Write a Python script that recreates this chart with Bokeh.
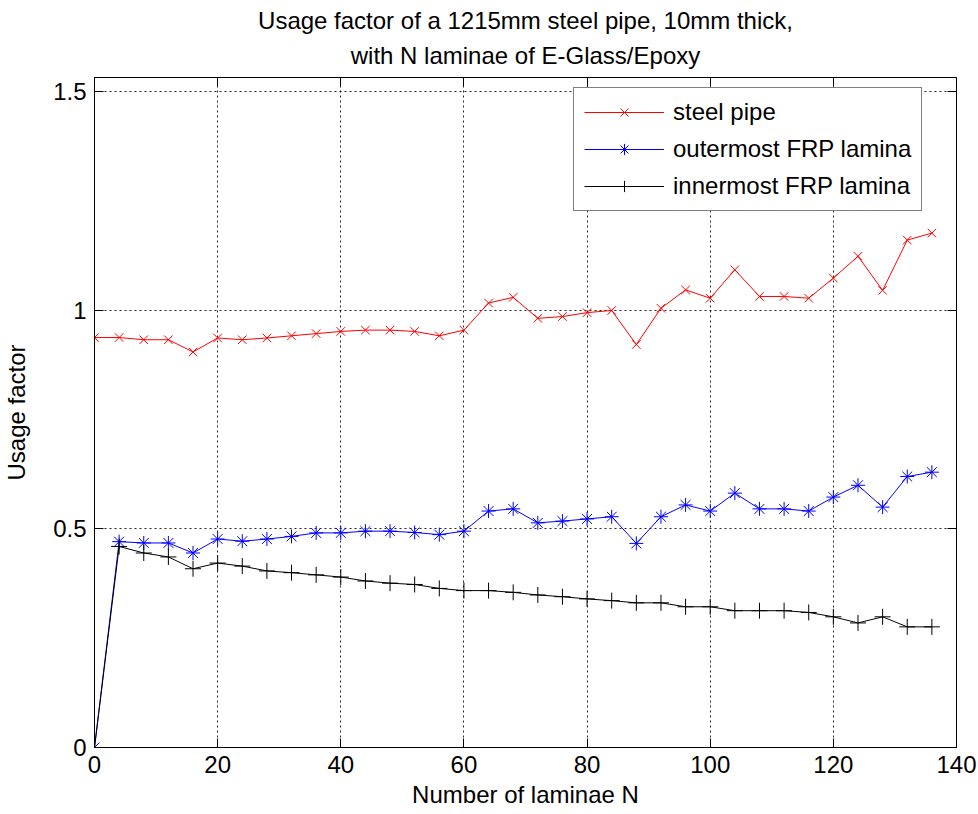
from bokeh.plotting import figure
from bokeh.models import (LinearAxis, FixedTicker, Legend, LegendItem, Range1d, Title,
                          CustomJSTickFormatter)
from bokeh.embed import file_html
from bokeh.resources import INLINE

# ---- data -------------------------------------------------------------
laminae_n = list(range(0, 137, 4))

steel_pipe = [0.938, 0.938, 0.933, 0.933, 0.905, 0.937, 0.933, 0.937, 0.942,
              0.947, 0.952, 0.955, 0.955, 0.952, 0.942, 0.955, 1.017, 1.030,
              0.982, 0.986, 0.995, 1.000, 0.922, 1.005, 1.047, 1.028, 1.093,
              1.032, 1.032, 1.028, 1.074, 1.124, 1.046, 1.161, 1.177]

outermost_frp = [0.000, 0.471, 0.468, 0.468, 0.445, 0.477, 0.472, 0.477, 0.483,
                 0.491, 0.491, 0.495, 0.495, 0.492, 0.487, 0.495, 0.541, 0.546,
                 0.514, 0.518, 0.523, 0.528, 0.467, 0.528, 0.555, 0.541, 0.582,
                 0.546, 0.546, 0.541, 0.573, 0.600, 0.550, 0.620, 0.630]

innermost_frp = [0.000, 0.460, 0.445, 0.436, 0.409, 0.422, 0.415, 0.404, 0.400,
                 0.395, 0.390, 0.381, 0.376, 0.373, 0.364, 0.359, 0.359, 0.355,
                 0.349, 0.345, 0.340, 0.336, 0.331, 0.331, 0.322, 0.322, 0.313,
                 0.313, 0.313, 0.309, 0.299, 0.285, 0.299, 0.276, 0.276]

x_ticks = [0, 20, 40, 60, 80, 100, 120, 140]
y_ticks = [0, 0.5, 1, 1.5]
y_tick_labels = ["0", "0.5", "1", "1.5"]

series_names = ["steel pipe", "outermost FRP lamina", "innermost FRP lamina"]
title_line1 = "Usage factor of a 1215mm steel pipe, 10mm thick,"
title_line2 = "with N laminae of E-Glass/Epoxy"
x_label = "Number of laminae N"
y_label = "Usage factor"

# ---- figure -----------------------------------------------------------
FONT = "Liberation Sans"
FS = "24px"

p = figure(width=978, height=814, output_backend="svg", toolbar_location=None,
           x_range=Range1d(0, 140), y_range=Range1d(0, 1.533),
           min_border_left=89, min_border_right=22, min_border_top=77,
           min_border_bottom=67)
p.title = None

p.background_fill_color = "white"
p.border_fill_color = "white"
p.outline_line_color = "black"
p.outline_line_width = 1

for ax in (p.xaxis[0], p.yaxis[0]):
    ax.major_label_text_font = FONT
    ax.major_label_text_font_size = FS
    ax.major_label_text_color = "black"
    ax.axis_label_text_font = FONT
    ax.axis_label_text_font_size = FS
    ax.axis_label_text_font_style = "normal"
    ax.axis_label_text_color = "black"
    ax.major_tick_in = 9
    ax.major_tick_out = 0
    ax.major_tick_line_color = "black"
    ax.minor_tick_line_color = None
    ax.axis_line_color = "black"

p.xaxis[0].ticker = FixedTicker(ticks=x_ticks)
p.yaxis[0].ticker = FixedTicker(ticks=y_ticks)
p.yaxis[0].major_label_overrides = dict(zip(y_ticks, y_tick_labels))
p.xaxis[0].axis_label = x_label
p.yaxis[0].axis_label = y_label
p.xaxis[0].major_label_standoff = 8
p.xaxis[0].axis_label_standoff = 5
p.yaxis[0].major_label_standoff = 8
p.yaxis[0].axis_label_standoff = 20

blank = CustomJSTickFormatter(code="return ''")
top_axis = LinearAxis(ticker=FixedTicker(ticks=x_ticks), formatter=blank,
                      major_label_text_font_size="1px",
                      major_tick_in=9, major_tick_out=0, minor_tick_line_color=None,
                      axis_line_color=None, major_label_standoff=0,
                      major_tick_line_color="black")
right_axis = LinearAxis(ticker=FixedTicker(ticks=y_ticks), formatter=blank,
                        major_label_text_font_size="1px",
                        major_tick_in=9, major_tick_out=0, minor_tick_line_color=None,
                        axis_line_color=None, major_label_standoff=0,
                        major_tick_line_color="black")
p.add_layout(top_axis, "above")
p.add_layout(right_axis, "right")

p.add_layout(Title(text=title_line2, align="center", text_font=FONT, text_font_size=FS,
                   text_font_style="normal", text_color="black", standoff=17), "above")
p.add_layout(Title(text=title_line1, align="center", text_font=FONT, text_font_size=FS,
                   text_font_style="normal", text_color="black", standoff=-5), "above")

for g in (p.xgrid[0], p.ygrid[0]):
    g.grid_line_color = "black"
    g.grid_line_dash = "2 3"
    g.grid_line_width = 1
    g.grid_line_alpha = 0.85
p.xgrid[0].ticker = FixedTicker(ticks=x_ticks)
p.ygrid[0].ticker = FixedTicker(ticks=y_ticks)

# ---- series -----------------------------------------------------------
r1l = p.line(laminae_n, steel_pipe, line_color="#ff0000", line_width=1)
r1m = p.scatter(laminae_n, steel_pipe, marker="x", size=12, line_color="#ff0000",
                fill_color=None, line_width=1)
r2l = p.line(laminae_n, outermost_frp, line_color="#0000ff", line_width=1)
r2m = p.scatter(laminae_n, outermost_frp, marker="asterisk", size=14, line_color="#0000ff",
                line_width=1)
r3l = p.line(laminae_n, innermost_frp, line_color="black", line_width=1)
r3m = p.scatter(laminae_n, innermost_frp, marker="cross", size=16, line_color="black",
                line_width=1)

legend = Legend(items=[
    LegendItem(label=series_names[0], renderers=[r1l, r1m]),
    LegendItem(label=series_names[1], renderers=[r2l, r2m]),
    LegendItem(label=series_names[2], renderers=[r3l, r3m]),
], location=(479, 536))
legend.label_text_font = FONT
legend.label_text_font_size = FS
legend.label_text_color = "black"
legend.glyph_width = 80
legend.glyph_height = 28
legend.label_height = 28
legend.label_standoff = 9
legend.spacing = 9
legend.padding = 10
legend.margin = 0
legend.border_line_color = "black"
legend.border_line_width = 1
legend.background_fill_color = "white"
legend.background_fill_alpha = 1
p.add_layout(legend)

open("out.html", "w").write(file_html(p, INLINE))
